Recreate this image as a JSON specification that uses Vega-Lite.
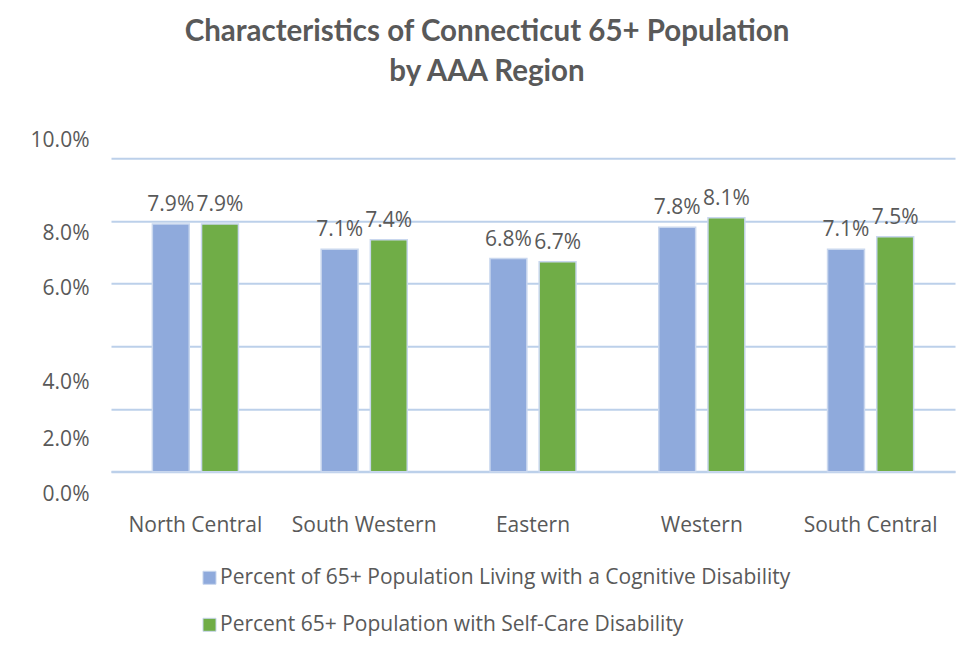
{
  "$schema": "https://vega.github.io/schema/vega-lite/v6.json",
  "width": 844,
  "height": 313.4,
  "autosize": {"type": "none"},
  "padding": {"left": 111, "top": 158.3, "right": 18, "bottom": 176.3},
  "background": "white",
  "title": {
    "text": ["Characteristics of Connecticut 65+ Population", "by AAA Region"],
    "font": "Lato",
    "fontWeight": "bold",
    "fontSize": 29.5,
    "color": "#595959",
    "lineHeight": 40,
    "anchor": "middle",
    "frame": "group",
    "dx": -46,
    "offset": 42
  },
  "data": {
    "values": [
      {"region": "North Central", "series": "Percent of 65+ Population Living with a Cognitive Disability", "value": 0.079},
      {"region": "North Central", "series": "Percent 65+ Population with Self-Care Disability", "value": 0.079},
      {"region": "South Western", "series": "Percent of 65+ Population Living with a Cognitive Disability", "value": 0.071},
      {"region": "South Western", "series": "Percent 65+ Population with Self-Care Disability", "value": 0.074},
      {"region": "Eastern", "series": "Percent of 65+ Population Living with a Cognitive Disability", "value": 0.068},
      {"region": "Eastern", "series": "Percent 65+ Population with Self-Care Disability", "value": 0.067},
      {"region": "Western", "series": "Percent of 65+ Population Living with a Cognitive Disability", "value": 0.078},
      {"region": "Western", "series": "Percent 65+ Population with Self-Care Disability", "value": 0.081},
      {"region": "South Central", "series": "Percent of 65+ Population Living with a Cognitive Disability", "value": 0.071},
      {"region": "South Central", "series": "Percent 65+ Population with Self-Care Disability", "value": 0.075}
    ]
  },
  "encoding": {
    "x": {
      "field": "region",
      "type": "nominal",
      "sort": null,
      "scale": {"paddingInner": 0.49, "paddingOuter": 0.245},
      "axis": {
        "title": null,
        "labelAngle": 0,
        "labelFont": "Open Sans",
        "labelFontSize": 21,
        "labelColor": "#595959",
        "labelPadding": 43,
        "ticks": false,
        "domainColor": "#bcd0ea",
        "domainWidth": 2
      }
    },
    "xOffset": {
      "field": "series",
      "type": "nominal",
      "sort": null,
      "scale": {"paddingInner": 0.25, "paddingOuter": 0}
    },
    "y": {
      "field": "value",
      "type": "quantitative",
      "scale": {"domain": [0, 0.1]},
      "axis": {
        "title": null,
        "format": ".1%",
        "values": [0, 0.02, 0.04, 0.06, 0.08, 0.1],
        "domain": false,
        "ticks": false,
        "labelFont": "Open Sans",
        "labelFontSize": 21,
        "labelColor": "#595959",
        "labelPadding": 22,
        "labelOffset": {"expr": "[23, 30.5, 36.2, 4.5, 12.2, -17.5][round(datum.value * 50)]"},
        "gridColor": "#bcd0ea",
        "gridWidth": 2
      }
    },
    "color": {
      "field": "series",
      "type": "nominal",
      "sort": null,
      "scale": {"range": ["#8faadc", "#70ad47"]},
      "legend": {
        "title": null,
        "orient": "none",
        "legendX": 88,
        "legendY": 409,
        "direction": "vertical",
        "symbolType": "square",
        "symbolSize": 170,
        "symbolStrokeColor": "#c9d7ee",
        "symbolStrokeWidth": 1,
        "symbolOpacity": 1,
        "labelFont": "Open Sans",
        "labelFontSize": 21,
        "labelColor": "#595959",
        "labelLimit": 800,
        "labelOffset": 0,
        "rowPadding": 25
      }
    }
  },
  "layer": [
    {
      "mark": {"type": "bar", "stroke": "#c9d7ee", "strokeWidth": 1.5, "opacity": 1}
    },
    {
      "mark": {
        "type": "text",
        "font": "Open Sans",
        "fontSize": 21,
        "color": "#595959",
        "baseline": "middle",
        "dy": -19
      },
      "encoding": {
        "text": {"field": "value", "type": "quantitative", "format": ".1%"},
        "color": {"value": "#595959"}
      }
    }
  ],
  "config": {
    "view": {"stroke": null}
  }
}
